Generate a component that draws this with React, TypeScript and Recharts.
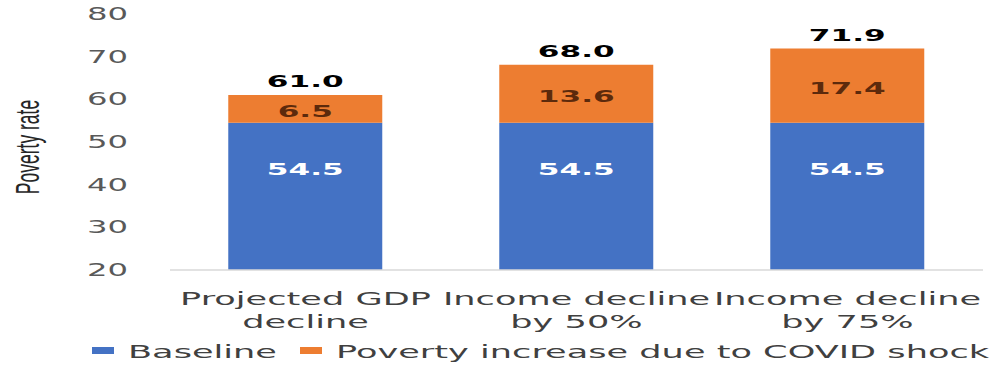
import React from "react";
import { Bar, BarChart, Label, LabelList, Legend, XAxis, YAxis } from "recharts";

const CATEGORIES = ["Projected GDP decline", "Income decline by 50%", "Income decline by 75%"];
const CATEGORY_LINES = [
  ["Projected GDP", "decline"],
  ["Income decline", "by 50%"],
  ["Income decline", "by 75%"],
];
const BASELINE = [54.5, 54.5, 54.5];
const COVID_INCREASE = [6.5, 13.6, 17.4];
const TOTALS = [61.0, 68.0, 71.9];
const Y_TICKS = [20, 30, 40, 50, 60, 70, 80];
const Y_MIN = 20;
const Y_MAX = 80;

const BLUE = "#4472C4";
const ORANGE = "#ED7D31";
const FONT = "'DejaVu Sans', Verdana, sans-serif";
const STRETCH = 1.9; // the source picture is stretched sideways

const data = CATEGORIES.map((name, i) => ({
  name,
  baseline: BASELINE[i],
  increase: COVID_INCREASE[i],
  total: TOTALS[i],
}));

function YTick({ x, y, payload }: any) {
  return (
    <text
      transform={`translate(${x - 34},${y}) scale(${STRETCH},1)`}
      textAnchor="end"
      dy="0.36em"
      fontFamily={FONT}
      fontSize={17}
      fill="#595959"
    >
      {payload.value}
    </text>
  );
}

function XTick({ x, y, payload, index }: any) {
  const lines = CATEGORY_LINES[index] ?? [payload.value];
  return (
    <g transform={`translate(${x},${y})`}>
      {lines.map((l, i) => (
        <text
          key={i}
          transform={`translate(0,${27 + i * 23}) scale(${STRETCH},1)`}
          textAnchor="middle"
          fontFamily={FONT}
          fontSize={18.5}
          fill="#404040"
        >
          {l}
        </text>
      ))}
    </g>
  );
}

function YTitle({ viewBox }: any) {
  const cy = viewBox.y + viewBox.height / 2 + 5;
  return (
    <text
      transform={`translate(27,${cy}) scale(${STRETCH},1) rotate(-90)`}
      textAnchor="middle"
      dy="0.35em"
      fontFamily="'Liberation Sans', Arial, sans-serif"
      fontSize={17.5}
      fill="#262626"
    >
      Poverty rate
    </text>
  );
}

function BaseLabel({ x, y, width, height, value }: any) {
  // center of the visible part of the bar (axis starts at Y_MIN)
  const visible = ((value - Y_MIN) * height) / value;
  const cy = y + visible / 2;
  return (
    <text
      transform={`translate(${x + width / 2},${cy}) scale(${STRETCH},1)`}
      textAnchor="middle"
      dy="0.36em"
      fontFamily={FONT}
      fontWeight="bold"
      fontSize={16.4}
      fill="#ffffff"
    >
      {Number(value).toFixed(1)}
    </text>
  );
}

function IncreaseLabel({ x, y, width, height, value }: any) {
  return (
    <text
      transform={`translate(${x + width / 2},${y + height / 2 + 2}) scale(${STRETCH},1)`}
      textAnchor="middle"
      dy="0.36em"
      fontFamily={FONT}
      fontWeight="bold"
      fontSize={16.4}
      fill="#5c2a0c"
    >
      {Number(value).toFixed(1)}
    </text>
  );
}

function TotalLabel({ x, y, width, index }: any) {
  return (
    <text
      transform={`translate(${x + width / 2},${y - 8}) scale(${STRETCH},1)`}
      textAnchor="middle"
      fontFamily={FONT}
      fontWeight="bold"
      fontSize={16.4}
      fill="#000000"
    >
      {TOTALS[index].toFixed(1)}
    </text>
  );
}

const LEGEND_X = [92, 300];

function LegendContent({ payload }: any) {
  return (
    <svg width={995} height={30} style={{ display: "block" }}>
      {(payload || []).map((p: any, i: number) => (
        <g key={i}>
          <rect x={LEGEND_X[i]} y={11} width={22} height={7} fill={p.color} />
          <text
            transform={`translate(${LEGEND_X[i] + 36},22) scale(${STRETCH},1)`}
            fontFamily={FONT}
            fontSize={18.5}
            fill="#404040"
          >
            {p.value}
          </text>
        </g>
      ))}
    </svg>
  );
}

export default function App() {
  return (
    <div style={{ position: "absolute", left: 0, top: 0 }}>
      <BarChart
        width={995}
        height={366}
        data={data}
        margin={{ top: 14, right: 12, left: 0, bottom: 0 }}
        barCategoryGap="21.5%"
      >
        <XAxis
          dataKey="name"
          axisLine={{ stroke: "#d9d9d9", strokeWidth: 1.5 }}
          tickLine={false}
          height={66}
          interval={0}
          tick={<XTick />}
        />
        <YAxis
          type="number"
          domain={[Y_MIN, Y_MAX]}
          ticks={Y_TICKS}
          allowDataOverflow
          axisLine={false}
          tickLine={false}
          width={170}
          tick={<YTick />}
        >
          <Label content={<YTitle />} />
        </YAxis>
        <Legend verticalAlign="bottom" content={<LegendContent />} />
        <Bar dataKey="baseline" name="Baseline" stackId="a" fill={BLUE} isAnimationActive={false}>
          <LabelList dataKey="baseline" content={<BaseLabel />} />
        </Bar>
        <Bar
          dataKey="increase"
          name="Poverty increase due to COVID shock"
          stackId="a"
          fill={ORANGE}
          isAnimationActive={false}
        >
          <LabelList dataKey="increase" content={<IncreaseLabel />} />
          <LabelList dataKey="total" content={<TotalLabel />} />
        </Bar>
      </BarChart>
    </div>
  );
}
